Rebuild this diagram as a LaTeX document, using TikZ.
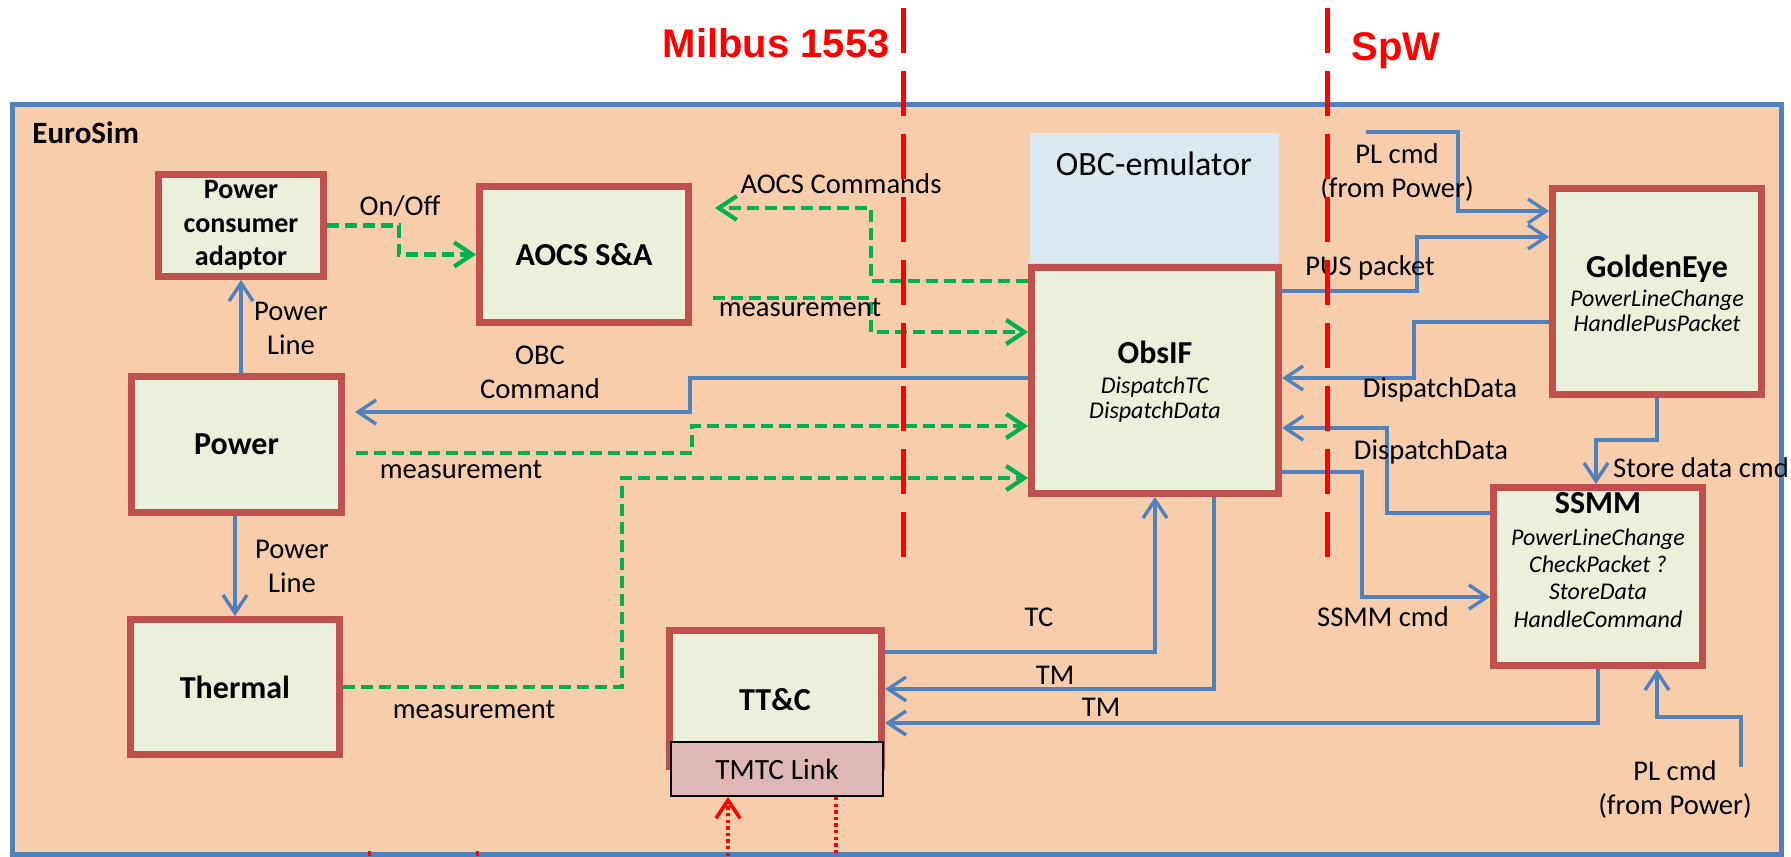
\documentclass[tikz,border=0pt]{standalone}
\usepackage{fontspec}
\setmainfont{Carlito}
\newfontfamily\arialfont{Liberation Sans}
\usetikzlibrary{arrows.meta}
\definecolor{peach}{HTML}{F8CDAC}
\definecolor{frameblue}{HTML}{4F81BD}
\definecolor{boxgreen}{HTML}{EAF0DA}
\definecolor{boxred}{HTML}{C0504D}
\definecolor{obcblue}{HTML}{DAE8F0}
\definecolor{tmtcpink}{HTML}{E0B7B7}
\definecolor{lineblue}{HTML}{4F81BD}
\definecolor{dgreen}{HTML}{00B050}
\definecolor{bred}{HTML}{FF0000}
\tikzset{
  >={Straight Barb[length=9pt,width=12pt]},
  blk/.style 2 args={draw=boxred, line width=3.3pt, fill=boxgreen, inner sep=0pt,
    minimum width=#1*0.5pt-3.3pt, minimum height=#2*0.5pt-3.3pt},
  bline/.style={draw=lineblue, line width=1.7pt, ->},
  gline/.style={draw=dgreen, line width=2.1pt, dash pattern=on 6pt off 3pt, ->},
  rdash/.style={draw=bred, line width=2.5pt, dash pattern=on 22.5pt off 9pt},
  rdot/.style={draw=bred, line width=1.8pt, dash pattern=on 1.7pt off 1.6pt},
  lbl/.style={font=\fontsize{14.3}{17}\selectfont, inner sep=0pt, align=center, text=black},
  ttl/.style={font=\fontsize{16}{19}\selectfont\bfseries, inner sep=0pt},
  ops/.style={font=\fontsize{12}{12.5}\selectfont\itshape, align=center, inner sep=0pt},
  redttl/.style={font=\arialfont\bfseries\fontsize{20}{24}\selectfont, text=bred, inner sep=0pt}
}
\begin{document}
\begin{tikzpicture}[x=0.5pt,y=-0.5pt]
\useasboundingbox (0,0) rectangle (1791,856);
% frame
\path[draw=frameblue, line width=2.5pt, fill=peach] (12,105) rectangle (1781,854);
\node[font=\fontsize{15.5}{18}\selectfont\bfseries, anchor=base west, inner sep=0pt] (eurosim) at (32,143) {EuroSim};
% blocks
\node[blk={172}{109}, align=center, font=\fontsize{14}{16.75}\selectfont\bfseries] (pca) at (241,225.5) {Power\\consumer\\adaptor};
\node[blk={216}{143}, ttl] (aocs) at (584,254.5) {AOCS S\&A};
\node[blk={217}{143}, ttl] (power) at (236.5,444.5) {Power};
\node[blk={216}{142}, ttl] (thermal) at (235,687) {Thermal};
\node[blk={219}{143}] (ttc) at (775.5,698.5) {};
\node[ttl, anchor=base] (ttctxt) at (775,710) {TT\&C};
\node[draw=black, line width=1pt, fill=tmtcpink, minimum width=214*0.5pt-1pt, minimum height=56*0.5pt-1pt, inner sep=0pt, font=\fontsize{14.7}{17}\selectfont] (tmtc) at (777,769) {TMTC Link};
\node[fill=obcblue, minimum width=249*0.5pt, minimum height=130*0.5pt, inner sep=0pt] (obc) at (1154.5,198) {};
\node[font=\fontsize{17}{20}\selectfont, inner sep=0pt, anchor=base] (obctxt) at (1154,175) {OBC-emulator};
\node[blk={254}{233}] (obsif) at (1155,380.5) {};
\node[ttl, anchor=base] (obsiftitle) at (1155,363) {ObsIF};
\node[ops] (obsifops) at (1155,400) {DispatchTC\\DispatchData};
\node[blk={216}{213}] (golden) at (1657,291.5) {};
\node[ttl, anchor=base] (goldentitle) at (1657,277) {GoldenEye};
\node[ops] (goldenops) at (1657,311) {PowerLineChange\\HandlePusPacket};
\node[blk={216}{185}] (ssmm) at (1598,576.5) {};
\node[ttl, anchor=base] (ssmmtitle) at (1598,513) {SSMM};
\node[ops, font=\fontsize{12}{13.65}\selectfont\itshape] (ssmmops) at (1598,578) {PowerLineChange\\CheckPacket ?\\StoreData\\HandleCommand};
% free ends
\coordinate (aocscmd) at (715,208);
\coordinate (aocsmeas) at (713,298);
\coordinate (obccmd) at (355,412);
\coordinate (pwmeas) at (356,453);
\coordinate (plcmd1) at (1366,132);
\coordinate (plcmd2) at (1741,767);
\coordinate (rd1) at (728,856);
\coordinate (rd2) at (836,856);
% connectors
\draw[gline] (pca.east) -- (399,0 |- pca.east) |- (aocs.west);
\draw[bline] (pca.south |- power.north) -- (pca.south);
\draw[bline] (thermal.north |- power.south) -- (thermal.north);
\draw[gline] (obsif.west |- 0,281) -| (871,208) -- (aocscmd);
\draw[gline] (aocsmeas) -| (871,332) -- (obsif.west |- 0,332);
\draw[bline] (obsif.west |- 0,378) -| (690,412) -- (obccmd);
\draw[gline] (pwmeas) -| (692,426) -- (obsif.west |- 0,426);
\draw[gline] (thermal.east) -| (622,478) -- (obsif.west |- 0,478);
\draw[bline] (ttc.east |- 0,652) -| (obsif.south);
\draw[bline] (obsif.south -| 1214,0) |- (ttc.east |- 0,689);
\draw[bline] (ssmm.south) |- (ttc.east |- 0,723);
\draw[bline] (obsif.east |- 0,291) -| (1417,237) -- (golden.west |- 0,237);
\draw[bline] (plcmd1) -| (1458,211) -- (golden.west |- 0,211);
\draw[bline] (golden.west |- 0,322) -| (1414,378) -- (obsif.east |- 0,378);
\draw[bline] (ssmm.west |- 0,513) -| (1387,428) -- (obsif.east |- 0,428);
\draw[bline] (obsif.east |- 0,472) -| (1362,597) -- (ssmm.west |- 0,597);
\draw[bline] (golden.south) |- (1596,440) -- (ssmm.north -| 1596,0);
\draw[bline] (plcmd2) |- (1657,717) -- (ssmm.south -| 1657,0);
\draw[rdot,->] (rd1) -- (tmtc.south -| rd1);
\draw[rdot] (tmtc.south -| rd2) -- (rd2);
% labels
\node[lbl] (lonoff) at (400,206) {On/Off};
\node[lbl] (lpl1) at (291,328) {Power\\Line};
\node[lbl] (lpl2) at (292,566) {Power\\Line};
\node[lbl] (laocscmd) at (841,184) {AOCS Commands};
\node[lbl] (laocsmeas) at (800,308) {measurement};
\node[lbl] (lobccmd) at (540,372) {OBC\\Command};
\node[lbl] (lpwmeas) at (461,470) {measurement};
\node[lbl] (lthmeas) at (474,710) {measurement};
\node[lbl] (ltc) at (1039,617) {TC};
\node[lbl] (ltm1) at (1055,675) {TM};
\node[lbl] (ltm2) at (1101,707) {TM};
\node[lbl] (lpus) at (1370,268) {PUS packet};
\node[lbl] (lplcmd1) at (1397,173) {PL cmd\\(from Power)};
\node[lbl] (ldd1) at (1440,390) {DispatchData};
\node[lbl] (ldd2) at (1431,452) {DispatchData};
\node[lbl] (lssmmcmd) at (1383,617) {SSMM cmd};
\node[lbl] (lstore) at (1701,468) {Store data cmd};
\node[lbl] (lplcmd2) at (1675,790) {PL cmd\\(from Power)};
% bus titles and separators
\node[redttl, anchor=base east] (milbus) at (890,58) {Milbus 1553};
\node[redttl, anchor=base west] (spw) at (1351,61) {SpW};
\coordinate (m1a) at (903,8); \coordinate (m1b) at (903,557);
\coordinate (m2a) at (1327,8); \coordinate (m2b) at (1327,557);
\draw[rdash] (m1a) -- (m1b);
\draw[rdash] (m2a) -- (m2b);
% small red marks at the bottom edge
\coordinate (st1a) at (369,851); \coordinate (st1b) at (369,856);
\coordinate (st2a) at (477,851); \coordinate (st2b) at (477,856);
\draw[draw=bred, line width=1.5pt] (st1a) -- (st1b);
\draw[draw=bred, line width=1.5pt] (st2a) -- (st2b);
\end{tikzpicture}
\end{document}
